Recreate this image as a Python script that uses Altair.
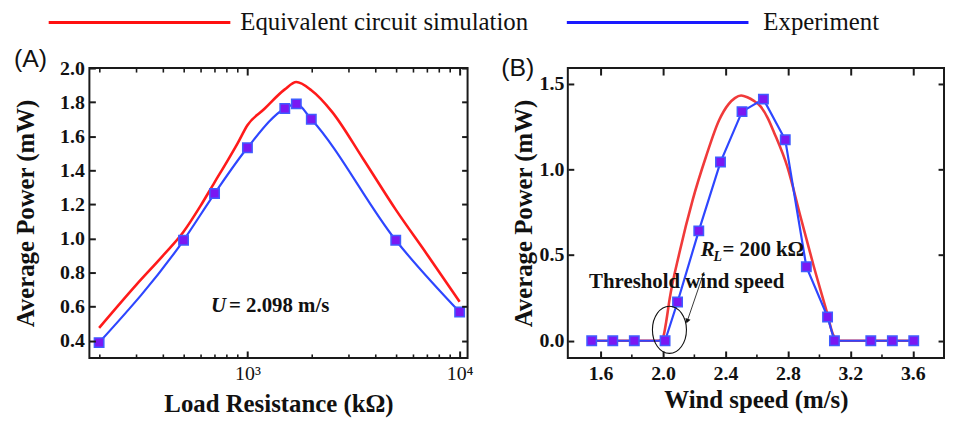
import altair as alt
import pandas as pd

# ---------------- data ----------------
# Panel A : average power vs load resistance (U = 2.098 m/s)
A_R_EXP = [200, 500, 700, 1000, 1500, 1700, 2000, 5000, 10000]
A_P_EXP = [0.39, 0.99, 1.264, 1.533, 1.763, 1.79, 1.70, 0.99, 0.569]
A_R_SIM = [200, 300, 400, 500, 600, 700, 800, 900, 1000, 1200, 1500, 1700,
           2000, 2500, 3500, 5000, 7000, 10000]
A_P_SIM = [0.476, 0.73, 0.90, 1.04, 1.19, 1.33, 1.45, 1.56, 1.665, 1.76, 1.875,
           1.918, 1.87, 1.745, 1.47, 1.17, 0.91, 0.63]
A_Y_TICKS = [0.4, 0.6, 0.8, 1.0, 1.2, 1.4, 1.6, 1.8, 2.0]
A_X_MAJOR = [1000, 10000]
A_X_MINOR = [200, 300, 400, 500, 600, 700, 800, 900,
             2000, 3000, 4000, 5000, 6000, 7000, 8000, 9000]

# Panel B : average power vs wind speed (R_L = 200 kOhm)
B_U_EXP = [1.543, 1.678, 1.816, 2.013, 2.093, 2.229, 2.368, 2.506, 2.643,
           2.783, 2.918, 3.054, 3.098, 3.331, 3.469, 3.606]
B_P_EXP = [0, 0, 0, 0, 0.226, 0.641, 1.042, 1.336, 1.409, 1.172, 0.432,
           0.139, 0, 0, 0, 0]
B_U_SIM = [1.543, 1.97, 2.0, 2.02, 2.042, 2.105, 2.19, 2.275, 2.359, 2.42,
           2.46, 2.5, 2.54, 2.58, 2.626, 2.67, 2.711, 2.796, 2.88, 2.965,
           3.05, 3.092, 3.134, 3.3, 3.606]
B_P_SIM = [0, 0, 0.02, 0.11, 0.243, 0.513, 0.822, 1.073, 1.286, 1.38,
           1.415, 1.43, 1.42, 1.40, 1.365, 1.30, 1.215, 1.015, 0.726, 0.436,
           0.166, 0.031, 0.0, 0, 0]
B_Y_TICKS = [0.0, 0.5, 1.0, 1.5]
B_X_MAJOR = [1.6, 2.0, 2.4, 2.8, 3.2, 3.6]
B_X_MINOR = [1.8, 2.2, 2.6, 3.0, 3.4]

LEGEND_NAMES = ["Equivalent circuit simulation", "Experiment"]
LEGEND_COLORS = ["#ff1010", "#1a1aff"]

# ---------------- style ----------------
RED_A = "#ff1a1a"
RED_B = "#f03a3a"
BLUE = "#2e46ff"
PURPLE = "#7a18f2"
EDGE = "#3f5cff"
INK = "#1a1a1a"
SERIF = "Liberation Serif"
WA, WB, H = 381, 379, 292


def tick_axis(orient, values, size, **kw):
    """Axis drawn inside the frame: shifted inward by its tick length."""
    base = dict(orient=orient, values=values, ticks=True, tickSize=size, offset=-size,
                tickColor=INK, tickWidth=2, domain=False, grid=False,
                labelOverlap=False, labels=False, title=None, zindex=1)
    base.update(kw)
    return alt.Axis(**base)


def text_at(df, text, xfield, yfield, size=21, style="normal", dx=0, dy=0):
    return alt.Chart(df).mark_text(
        text=text, font=SERIF, fontSize=size, fontWeight="bold", fontStyle=style,
        align="left", baseline="alphabetic", color="#111", dx=dx, dy=dy
    ).encode(x=alt.X(f"{xfield}:Q", axis=None), y=alt.Y(f"{yfield}:Q", axis=None))


# ---------------- panel A ----------------
xa = alt.Scale(type="log", domain=[180, 10900], nice=False)
ya = alt.Scale(domain=[0.3, 2.0], nice=False, zero=False)
a_sim = pd.DataFrame({"R": A_R_SIM, "P": A_P_SIM})
a_exp = pd.DataFrame({"R": A_R_EXP, "P": A_P_EXP})

a_line_sim = alt.Chart(a_sim).mark_line(color=RED_A, strokeWidth=2.6, interpolate="monotone").encode(
    x=alt.X("R:Q", scale=xa, axis=tick_axis(
        "bottom", A_X_MAJOR, 7, labels=True,
        labelExpr="datum.value == 1000 ? '10³' : '10⁴'", title="Load Resistance (kΩ)",
        labelFontWeight="normal", labelFontSize=20, labelPadding=6, titlePadding=8)),
    y=alt.Y("P:Q", scale=ya, axis=tick_axis(
        "left", A_Y_TICKS, 6, labels=True, format=".1f", title="Average Power (mW)",
        labelPadding=5, titlePadding=21)),
)
a_line_exp = alt.Chart(a_exp).mark_line(color=BLUE, strokeWidth=2.2, interpolate="monotone").encode(
    x=alt.X("R:Q", axis=tick_axis("bottom", A_X_MINOR, 4, tickWidth=1.6)),
    y=alt.Y("P:Q", axis=tick_axis("right", A_Y_TICKS, 6)))
a_pts = alt.Chart(a_exp).mark_point(shape="square", filled=True, size=90, fill=PURPLE,
                                    stroke=EDGE, strokeWidth=1.5, opacity=1).encode(
    x=alt.X("R:Q", axis=tick_axis("top", A_X_MAJOR, 7)),
    y=alt.Y("P:Q", axis=None))
a_note = pd.DataFrame({"R": [674], "P": [0.569]})
a_u = alt.Chart(a_note).mark_text(
    text="U", font=SERIF, fontSize=21, fontWeight="bold", fontStyle="italic",
    align="left", baseline="alphabetic", color="#111").encode(
    x=alt.X("R:Q", axis=tick_axis("top", A_X_MINOR, 4, tickWidth=1.6)),
    y=alt.Y("P:Q", axis=None))
panel_a = alt.layer(
    a_line_sim, a_line_exp, a_pts, a_u,
    text_at(a_note, "= 2.098 m/s", "R", "P", dx=18),
).resolve_axis(x="independent", y="independent").properties(
    width=WA, height=H,
    title=alt.TitleParams("(A)", anchor="start", frame="bounds", font="Liberation Sans",
                          fontSize=25, fontWeight="normal", color="#111", offset=-14),
)

# ---------------- panel B ----------------
xb = alt.Scale(domain=[1.39, 3.8], nice=False, zero=False)
yb = alt.Scale(domain=[-0.1, 1.59], nice=False, zero=False)
b_sim = pd.DataFrame({"U": B_U_SIM, "P": B_P_SIM})
b_exp = pd.DataFrame({"U": B_U_EXP, "P": B_P_EXP})

b_line_sim = alt.Chart(b_sim).mark_line(color=RED_B, strokeWidth=2.6, interpolate="monotone").encode(
    x=alt.X("U:Q", scale=xb, axis=tick_axis(
        "bottom", B_X_MAJOR, 7, labels=True, format=".1f", title="Wind speed (m/s)",
        labelPadding=6, titlePadding=4)),
    y=alt.Y("P:Q", scale=yb, axis=tick_axis(
        "left", B_Y_TICKS, 6, labels=True, format=".1f", title="Average Power (mW)",
        labelPadding=4, titlePadding=3)),
)
b_line_exp = alt.Chart(b_exp).mark_line(color=BLUE, strokeWidth=2.2).encode(
    x=alt.X("U:Q", axis=tick_axis("bottom", B_X_MINOR, 4, tickWidth=1.6)),
    y=alt.Y("P:Q", axis=tick_axis("right", B_Y_TICKS, 6)))
b_pts = alt.Chart(b_exp).mark_point(shape="square", filled=True, size=90, fill=PURPLE,
                                    stroke=EDGE, strokeWidth=1.5, opacity=1).encode(
    x=alt.X("U:Q", axis=tick_axis("top", B_X_MAJOR, 7)),
    y=alt.Y("P:Q", axis=None))
b_rl = pd.DataFrame({"U": [2.241], "P": [0.492]})
b_th = pd.DataFrame({"U": [1.526], "P": [0.305]})
b_ell = pd.DataFrame({"U": [2.041], "P": [0.064]})
b_arrow = pd.DataFrame({"U": [2.262], "P": [0.40], "U2": [2.155], "P2": [0.115]})
ELLIPSE = "M-0.72,0A0.72,1,0,1,0,0.72,0A0.72,1,0,1,0,-0.72,0Z"

panel_b = alt.layer(
    b_line_sim, b_line_exp, b_pts,
    text_at(b_rl, "R", "U", "P", style="italic"),
    text_at(b_rl, "L", "U", "P", size=14, style="italic", dx=13, dy=5),
    text_at(b_rl, "= 200 kΩ", "U", "P", dx=22),
    text_at(b_th, "Threshold wind speed", "U", "P"),
    alt.Chart(b_ell).mark_point(shape=ELLIPSE, size=2266, filled=False, color="#111",
                                strokeWidth=1.1, opacity=1).encode(
        x=alt.X("U:Q", axis=None), y=alt.Y("P:Q", axis=None)),
    alt.Chart(b_arrow).mark_rule(color="#222", strokeWidth=0.9).encode(
        x=alt.X("U:Q", axis=None), y=alt.Y("P:Q", axis=None), x2="U2:Q", y2="P2:Q"),
    alt.Chart(b_arrow).mark_point(shape="triangle-up", size=30, filled=True, color="#111",
                                  angle=199, opacity=1).encode(
        x=alt.X("U2:Q", axis=None), y=alt.Y("P2:Q", axis=None)),
).resolve_axis(x="independent", y="independent").properties(
    width=WB, height=H,
    title=alt.TitleParams("(B)", anchor="start", frame="bounds", font="Liberation Sans",
                          fontSize=25, fontWeight="normal", color="#111", offset=-14, dx=-10),
)

# ---------------- legend strip (origin = panel A plot origin) ----------------
leg = pd.DataFrame({"name": LEGEND_NAMES, "color": LEGEND_COLORS})
LEG_Y = 11
leg_layers = []
for i, (x1, x2, tx) in enumerate([(-41, 142, 152), (481, 664, 679)]):
    row = leg.iloc[[i]]
    leg_layers.append(alt.Chart(row).mark_rule(strokeWidth=3).encode(
        x=alt.value(x1), x2=alt.value(x2), y=alt.value(LEG_Y),
        color=alt.Color("color:N", scale=None)))
    leg_layers.append(alt.Chart(row).mark_text(
        font=SERIF, fontSize=25, align="left", baseline="middle", color="#111").encode(
        x=alt.value(tx), y=alt.value(LEG_Y), text="name:N"))
legend = alt.layer(*leg_layers).properties(
    width=600, height=50, view=alt.ViewBackground(stroke="transparent"))

chart = alt.vconcat(
    legend,
    alt.hconcat(panel_a, panel_b, spacing=101, bounds="flush"),
    spacing=7,
    bounds="flush",
).properties(
    padding={"left": 5, "top": 0, "right": 0, "bottom": 0}
).configure_view(stroke=INK, strokeWidth=2).configure_axis(
    labelFont=SERIF, labelFontWeight="bold", labelFontSize=20, labelColor="#111",
    titleFont=SERIF, titleFontWeight="bold", titleFontSize=25, titleColor="#111",
    labelBound=False, labelOverlap=False, labelFlush=False,
).configure_title(font="Liberation Sans")

chart.save("out.html", embed_options={"renderer": "svg", "actions": False})
